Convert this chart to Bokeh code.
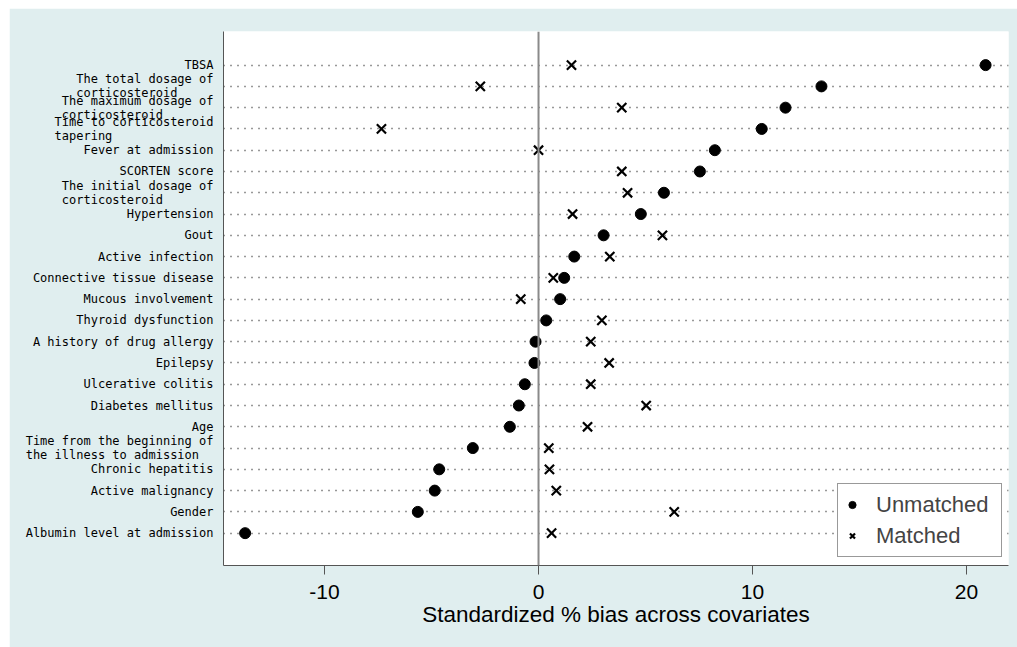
from bokeh.plotting import figure
from bokeh.models import Range1d, FixedTicker, Span, Legend, LegendItem, ColumnDataSource, Spacer
from bokeh.layouts import column, row
from bokeh.embed import file_html
from bokeh.resources import INLINE

NB = "\u00a0"

# Covariates, top to bottom
covariates = [
    "TBSA",
    "The total dosage of\ncorticosteroid" + NB * 5,
    "The maximum dosage of\ncorticosteroid" + NB * 7,
    "Time to corticosteroid\ntapering" + NB * 14,
    "Fever at admission",
    "SCORTEN score",
    "The initial dosage of\ncorticosteroid" + NB * 7,
    "Hypertension",
    "Gout",
    "Active infection",
    "Connective tissue disease",
    "Mucous involvement",
    "Thyroid dysfunction",
    "A history of drug allergy",
    "Epilepsy",
    "Ulcerative colitis",
    "Diabetes mellitus",
    "Age",
    "Time from the beginning of\nthe illness to admission" + NB * 2,
    "Chronic hepatitis",
    "Active malignancy",
    "Gender",
    "Albumin level at admission",
]

unmatched = [20.89, 13.22, 11.54, 10.43, 8.24, 7.54, 5.86, 4.78, 3.04, 1.67, 1.20, 1.01,
             0.36, -0.14, -0.19, -0.64, -0.92, -1.34, -3.07, -4.64, -4.85, -5.64, -13.71]
matched = [1.54, -2.72, 3.89, -7.34, 0.0, 3.89, 4.16, 1.59, 5.79, 3.33, 0.69, -0.83,
           2.96, 2.44, 3.30, 2.44, 5.03, 2.29, 0.48, 0.51, 0.83, 6.34, 0.61]

x_ticks = [-10, 0, 10, 20]
x_tick_labels = ["-10", "0", "10", "20"]

n = len(covariates)
rows = [n - i for i in range(n)]

src = ColumnDataSource(dict(y=rows, unmatched=unmatched, matched=matched))

BG = "#e0eeef"
p = figure(width=1008, height=639, output_backend="svg", toolbar_location=None,
           x_range=Range1d(-14.72, 21.96), y_range=Range1d(-0.52, 24.58),
           min_border_left=214, min_border_right=9, min_border_top=23, min_border_bottom=82,
           background_fill_color="white", border_fill_color=BG, outline_line_color=None)

# axes
p.xaxis.ticker = FixedTicker(ticks=x_ticks)
p.xaxis.major_label_overrides = {t: s for t, s in zip(x_ticks, x_tick_labels)}
p.xaxis.axis_label = "Standardized % bias across covariates"
p.xaxis.axis_label_text_font = "Liberation Sans"
p.xaxis.axis_label_text_font_style = "normal"
p.xaxis.axis_label_text_font_size = "22.5px"
p.xaxis.axis_label_text_color = "black"
p.xaxis.axis_label_standoff = 0
p.xaxis.major_label_text_font = "Liberation Sans"
p.xaxis.major_label_text_font_size = "21px"
p.xaxis.major_label_text_color = "black"
p.xaxis.major_label_standoff = 10
p.xaxis.major_tick_out = 9
p.xaxis.major_tick_in = 0
p.xaxis.minor_tick_line_color = None
p.xaxis.axis_line_color = "#555555"
p.xaxis.major_tick_line_color = "#555555"

p.yaxis.ticker = FixedTicker(ticks=rows)
p.yaxis.major_label_overrides = {r: lab for r, lab in zip(rows, covariates)}
p.yaxis.major_label_text_font = "DejaVu Sans Mono"
p.yaxis.major_label_text_font_size = "12px"
p.yaxis.major_label_text_color = "black"
p.yaxis.major_label_text_line_height = 1.0
p.yaxis.major_label_standoff = 4
p.yaxis.major_tick_line_color = None
p.yaxis.minor_tick_line_color = None
p.yaxis.axis_line_color = "#555555"

p.xgrid.grid_line_color = None
p.ygrid.ticker = FixedTicker(ticks=rows)
p.ygrid.grid_line_color = "#333333"
p.ygrid.grid_line_dash = "1 6"
p.ygrid.grid_line_width = 1.5

p.add_layout(Span(location=0, dimension="height", line_color="#8a8a8a", line_width=2))

r1 = p.scatter("unmatched", "y", source=src, marker="circle", size=11,
               fill_color="black", line_color="black")
r2 = p.scatter("matched", "y", source=src, marker="x", size=13,
               line_color="black", line_width=2.2)

legend = Legend(items=[LegendItem(label="Unmatched", renderers=[r1]),
                       LegendItem(label="Matched", renderers=[r2])],
                location=(614, 8), label_text_font="Liberation Sans",
                label_text_font_size="22px", glyph_width=18, glyph_height=31,
                label_height=31, label_width=120, label_standoff=15, padding=5,
                spacing=0, margin=0,
                border_line_color="#333333", border_line_width=1,
                background_fill_color="white", background_fill_alpha=1)
p.add_layout(legend, "center")

layout = column(Spacer(height=8), row(Spacer(width=9), p))

open("out.html", "w").write(file_html(layout, INLINE))
